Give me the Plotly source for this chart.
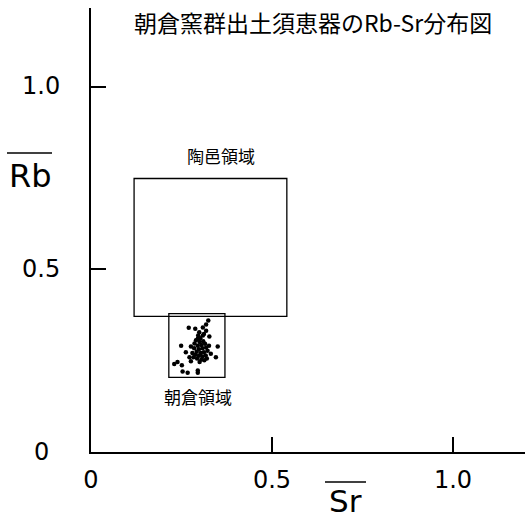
import plotly.graph_objects as go

# Rb-Sr ratios of Sue ware from the Asakura kiln group
sr_values = [0.324, 0.318, 0.270, 0.288, 0.299, 0.309, 0.327, 0.295, 0.249, 0.350,
             0.276, 0.262, 0.331, 0.345, 0.272, 0.239, 0.230, 0.251, 0.276, 0.253,
             0.267, 0.295, 0.295, 0.290, 0.300, 0.310, 0.305, 0.295, 0.315, 0.285,
             0.298, 0.308, 0.318, 0.292, 0.303, 0.312, 0.322, 0.288, 0.298, 0.308,
             0.317, 0.283, 0.293, 0.305, 0.313, 0.300, 0.320, 0.280, 0.326, 0.302,
             0.312, 0.296, 0.286, 0.309, 0.318]
rb_values = [0.359, 0.348, 0.339, 0.336, 0.327, 0.318, 0.315, 0.309, 0.290, 0.288,
             0.288, 0.272, 0.268, 0.258, 0.258, 0.245, 0.240, 0.236, 0.247, 0.219,
             0.216, 0.216, 0.222, 0.305, 0.300, 0.302, 0.292, 0.290, 0.295, 0.283,
             0.280, 0.283, 0.285, 0.273, 0.270, 0.272, 0.276, 0.265, 0.262, 0.260,
             0.263, 0.258, 0.255, 0.252, 0.250, 0.245, 0.255, 0.270, 0.290, 0.310,
             0.322, 0.318, 0.296, 0.340, 0.331]

# Reference regions: [sr_min, sr_max, rb_min, rb_max]
suemura_region = [0.119, 0.541, 0.370, 0.748]
asakura_region = [0.215, 0.370, 0.203, 0.378]
region_names = ["陶邑領域", "朝倉領域"]

tick_vals = [0, 0.5, 1.0]
tick_text = ["0", "0.5", "1.0"]

title_text = "朝倉窯群出土須恵器のRb-Sr分布図"

W, H = 525, 521


def px(x):
    return x / W


def py(y):
    return 1 - y / H


fig = go.Figure()
fig.add_trace(go.Scatter(
    x=sr_values, y=rb_values, mode="markers",
    marker=dict(color="black", size=4.5, line=dict(width=0)),
    showlegend=False, hoverinfo="skip",
))

shapes = []
for reg in (suemura_region, asakura_region):
    shapes.append(dict(type="rect", xref="x", yref="y",
                       x0=reg[0], x1=reg[1], y0=reg[2], y1=reg[3],
                       line=dict(color="black", width=1.3)))

# overlines on the axis titles
shapes.append(dict(type="line", xref="paper", yref="paper",
                   x0=px(7), x1=px(52), y0=py(153), y1=py(153),
                   line=dict(color="black", width=1.5)))
shapes.append(dict(type="line", xref="paper", yref="paper",
                   x0=px(325), x1=px(366), y0=py(482), y1=py(482),
                   line=dict(color="black", width=1.5)))

cjk = "Noto Sans CJK JP"
latin = "DejaVu Sans"
annotations = [
    dict(text=title_text, xref="paper", yref="paper", x=px(313), y=py(22),
         showarrow=False, font=dict(family=cjk, size=23, color="black"),
         xanchor="center", yanchor="middle"),
    dict(text=region_names[0], xref="x", yref="y",
         x=(suemura_region[0] + suemura_region[1]) / 2 + 0.03, y=suemura_region[3],
         yshift=23, showarrow=False,
         font=dict(family=cjk, size=17, color="black"),
         xanchor="center", yanchor="middle"),
    dict(text=region_names[1], xref="x", yref="y",
         x=(asakura_region[0] + asakura_region[1]) / 2 + 0.002, y=asakura_region[2],
         yshift=-19, showarrow=False,
         font=dict(family=cjk, size=17, color="black"),
         xanchor="center", yanchor="middle"),
    dict(text="Rb", xref="paper", yref="paper", x=px(30), y=py(176),
         showarrow=False, font=dict(family=latin, size=32, color="black"),
         xanchor="center", yanchor="middle"),
    dict(text="Sr", xref="paper", yref="paper", x=px(346), y=py(501),
         showarrow=False, font=dict(family=latin, size=31, color="black"),
         xanchor="center", yanchor="middle"),
]

# Rb tick labels, centred in the left margin
for v, t in zip(tick_vals, tick_text):
    annotations.append(dict(text=t, xref="paper", yref="y", x=px(41), y=v,
                            showarrow=False, xanchor="center", yanchor="middle",
                            font=dict(family=latin, size=24, color="black")))

axis_common = dict(
    showline=True, linecolor="black", linewidth=1.5,
    ticks="inside", ticklen=15, tickwidth=1.5, tickcolor="black",
    tickvals=tick_vals, ticktext=tick_text,
    showgrid=False, zeroline=False, automargin=False,
    tickfont=dict(family=latin, size=24, color="black"),
)

fig.update_layout(
    width=W, height=H,
    margin=dict(l=0, r=0, t=0, b=0),
    paper_bgcolor="white", plot_bgcolor="white",
    xaxis=dict(domain=[px(91), 1], range=[0, 434 / 362], ticklabelstandoff=6,
               **axis_common),
    yaxis=dict(domain=[py(451.5), py(8)], range=[0, 443.5 / 365],
               showticklabels=False, **axis_common),
    shapes=shapes,
    annotations=annotations,
)

fig.write_html("out.html")
